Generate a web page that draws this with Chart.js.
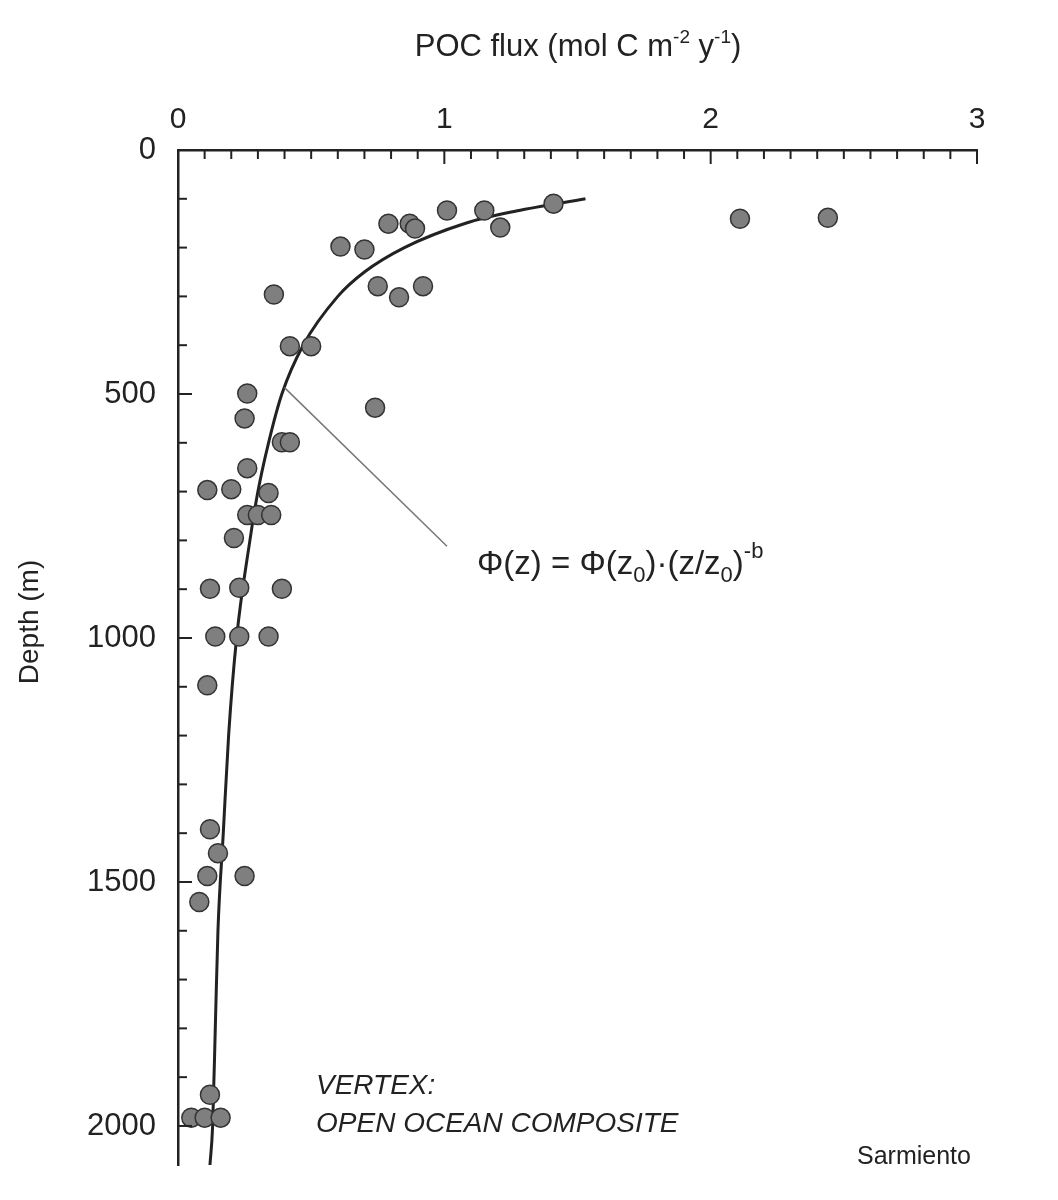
<!DOCTYPE html>
<html><head><meta charset="utf-8">
<script src="https://cdn.jsdelivr.net/npm/chart.js@4"></script>
<style>html,body{margin:0;padding:0;background:#fff}#w{width:1058px;height:1200px}</style>
</head><body><div id="w"><canvas id="c"></canvas></div>
<script>
const obsFlux = [1.41,1.01,1.15,0.79,0.87,0.89,1.21,2.11,2.44,0.61,0.70,0.36,0.75,0.83,0.92,0.42,0.50,0.26,0.74,0.25,0.26,0.39,0.42,0.11,0.20,0.34,0.26,0.30,0.35,0.21,0.12,0.23,0.39,0.14,0.23,0.34,0.11,0.12,0.15,0.11,0.25,0.08,0.12,0.05,0.10,0.16];
const obsDepth = [110,124,124,151,151,161,159,141,139,198,204,296,279,302,279,402,402,499,528,550,652,599,599,697,695,703,748,748,748,795,899,897,899,997,997,997,1097,1392,1441,1488,1488,1541,1936,1983,1983,1983];
const fitDepth = [100,125,150,200,250,300,400,500,600,700,800,1000,1200,1400,1600,1800,2000,2080];
const fitFlux = [1.53,1.27,1.08,0.85,0.70,0.60,0.47,0.39,0.34,0.30,0.27,0.22,0.19,0.17,0.15,0.14,0.13,0.12];
const xMajor = [0,1,2,3];
const yMajor = [0,500,1000,1500,2000];
const leaderFlux = [0.40,1.01];
const leaderDepth = [487,812];

const F = '"Liberation Sans", Arial, sans-serif';
const deco = {
  id:'deco',
  afterDraw(ch){
    const c=ch.ctx, x=ch.scales.x, y=ch.scales.y, a=ch.chartArea;
    c.save(); c.strokeStyle='#222'; c.lineWidth=2;
    for(let i=0;i<=30;i++){const px=x.getPixelForValue(i/10);const L=i%10===0?14:9;
      c.beginPath();c.moveTo(px,a.top);c.lineTo(px,a.top+L);c.stroke();}
    for(let d=0;d<=2000;d+=100){const py=y.getPixelForValue(d);const L=d%500===0?14:9;
      c.beginPath();c.moveTo(a.left,py);c.lineTo(a.left+L,py);c.stroke();}
    c.strokeStyle='#777';c.lineWidth=1.5;c.beginPath();
    c.moveTo(x.getPixelForValue(leaderFlux[0]),y.getPixelForValue(leaderDepth[0]));
    c.lineTo(x.getPixelForValue(leaderFlux[1]),y.getPixelForValue(leaderDepth[1]));c.stroke();
    c.fillStyle='#222';c.textBaseline='alphabetic';
    const big='31px '+F, sup='19px '+F;
    let t1='POC flux (mol C m', t2=' y', t3=')';
    c.font=big; let w1=c.measureText(t1).width,w2=c.measureText(t2).width,w3=c.measureText(t3).width;
    c.font=sup; let s1=c.measureText('-2').width,s2=c.measureText('-1').width;
    let tx=578-(w1+w2+w3+s1+s2)/2, ty=56;
    c.font=big;c.fillText(t1,tx,ty);tx+=w1;c.font=sup;c.fillText('-2',tx,ty-13);tx+=s1;
    c.font=big;c.fillText(t2,tx,ty);tx+=w2;c.font=sup;c.fillText('-1',tx,ty-13);tx+=s2;
    c.font=big;c.fillText(t3,tx,ty);
    c.save();c.translate(38,622);c.rotate(-Math.PI/2);c.textAlign='center';c.font='28px '+F;c.fillText('Depth (m)',0,0);c.restore();
    let ex=477, ey=574; const parts=[['Φ(z) = Φ(z','30'],['0','20s'],[')·(z/z','30'],['0','20s'],[')','30'],['-b','20u']];
    for(const [s,f] of parts){let off=0,sz=33;
      if(f==='20s'){sz=22;off=8;} if(f==='20u'){sz=22;off=-16;}
      c.font=sz+'px '+F;c.fillText(s,ex,ey+off);ex+=c.measureText(s).width;}
    c.font='italic 28px '+F;c.fillText('VERTEX:',316,1094);c.fillText('OPEN OCEAN COMPOSITE',316,1132);
    c.font='25px '+F;c.fillText('Sarmiento',857,1164);
    c.restore();
  }
};
new Chart(document.getElementById('c'),{
  type:'scatter',
  data:{datasets:[
    {type:'line',data:fitDepth.map((d,i)=>({x:fitFlux[i],y:d})),borderColor:'#222',borderWidth:3,pointRadius:0,cubicInterpolationMode:'monotone',fill:false,order:2},
    {data:obsDepth.map((d,i)=>({x:obsFlux[i],y:d})),backgroundColor:'#7f7f7f',borderColor:'#333',borderWidth:1.5,pointRadius:9.5,order:1}
  ]},
  options:{responsive:true,maintainAspectRatio:false,animation:false,
    layout:{padding:{left:0,top:0,right:81,bottom:35}},
    plugins:{legend:{display:false},tooltip:{enabled:false}},
    scales:{
      x:{type:'linear',position:'top',min:0,max:3,afterBuildTicks(s){s.ticks=xMajor.map(v=>({value:v}));},
        afterFit(s){s.height=150;},
        grid:{display:false},border:{display:true,color:'#222',width:2.5},
        ticks:{color:'#222',font:{size:30,family:F},padding:4,callback:v=>String(v)}},
      y:{type:'linear',reverse:true,min:0,max:2080,afterBuildTicks(s){s.ticks=yMajor.map(v=>({value:v}));},
        afterFit(s){s.width=178;},
        grid:{display:false},border:{display:true,color:'#222',width:2.5},
        ticks:{color:'#222',font:{size:31,family:F},padding:14,callback:v=>String(v)}}
    }},
  plugins:[deco]
});
</script></body></html>
